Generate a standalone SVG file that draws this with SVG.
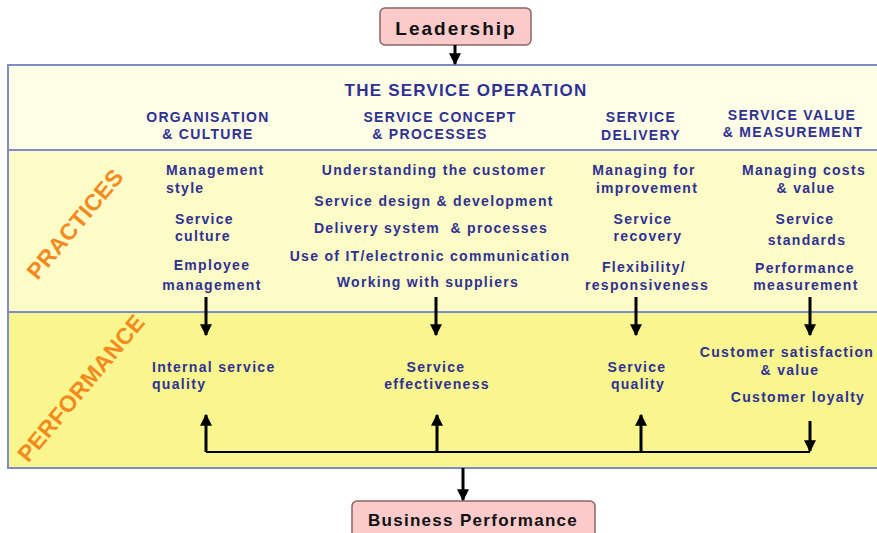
<svg xmlns="http://www.w3.org/2000/svg" width="877" height="533" viewBox="0 0 877 533">
<defs>
<marker id="ah" viewBox="0 0 10 10" refX="9" refY="5" markerWidth="4" markerHeight="4" orient="auto" markerUnits="strokeWidth">
<path d="M0,0 L10,5 L0,10 Z" fill="#000"/>
</marker>
<style>
.t{font-family:"Liberation Sans",Arial,sans-serif;font-weight:bold;font-size:14px;letter-spacing:1.3px;fill:#2e3192}
.c{text-anchor:middle}
.h{font-size:17px;letter-spacing:1.2px}
.o{font-family:"Liberation Sans",Arial,sans-serif;font-weight:bold;font-size:23px;fill:#f28a1e;text-anchor:middle;letter-spacing:0.3px}
.box{fill:#fbcaca;stroke:#8a6565;stroke-width:1.5}
.bt{font-family:"Liberation Sans",Arial,sans-serif;font-weight:bold;fill:#111;text-anchor:middle}
.ln{stroke:#000;stroke-width:3;fill:none}
.ar{stroke:#000;stroke-width:3;fill:none;marker-end:url(#ah)}
.fr{stroke:#7d8cc4;stroke-width:2}
</style>
</defs>
<rect width="877" height="533" fill="#fff"/>

<g id="frame">
<rect x="8" y="65" width="890" height="85" fill="#fefde6" class="fr"/>
<rect x="8" y="150" width="890" height="162" fill="#fdfbc6" class="fr"/>
<rect x="8" y="312" width="890" height="156" fill="#faf68f" class="fr"/>
</g>

<g id="leadership">
<rect x="380" y="8" width="151" height="37" rx="5" class="box"/>
<text x="456" y="35" class="bt" style="font-size:19px;letter-spacing:2px">Leadership</text>
</g>

<g id="business-performance">
<rect x="352" y="501" width="243" height="45" rx="5" class="box"/>
<text x="473" y="526" class="bt" style="font-size:17px;letter-spacing:1.3px">Business Performance</text>
</g>

<g id="header">
<text x="466" y="96" class="t c h">THE SERVICE OPERATION</text>
<text class="t c"><tspan x="208" y="122">ORGANISATION</tspan><tspan x="208" y="139">&amp; CULTURE</tspan></text>
<text class="t c"><tspan x="440" y="122">SERVICE CONCEPT</tspan><tspan x="430" y="139">&amp; PROCESSES</tspan></text>
<text class="t c"><tspan x="641" y="122">SERVICE</tspan><tspan x="641" y="140">DELIVERY</tspan></text>
<text class="t c"><tspan x="792" y="120">SERVICE VALUE</tspan><tspan x="793" y="137">&amp; MEASUREMENT</tspan></text>
</g>

<g id="practices-label">
<text class="o" transform="translate(75,224) rotate(-50)" x="0" y="8">PRACTICES</text>
</g>
<g id="performance-label">
<text class="o" transform="translate(81,388) rotate(-50)" x="0" y="8">PERFORMANCE</text>
</g>

<g id="practices-org">
<text class="t"><tspan x="166" y="175">Management</tspan><tspan x="166" y="193">style</tspan></text>
<text class="t"><tspan x="175" y="224">Service</tspan><tspan x="175" y="241">culture</tspan></text>
<text class="t c"><tspan x="212" y="270">Employee</tspan><tspan x="212" y="290">management</tspan></text>
</g>

<g id="practices-concept">
<text x="434" y="175" class="t c">Understanding the customer</text>
<text x="434" y="206" class="t c">Service design &amp; development</text>
<text x="431" y="233" class="t c" xml:space="preserve">Delivery system  &amp; processes</text>
<text x="430" y="261" class="t c">Use of IT/electronic communication</text>
<text x="428" y="287" class="t c">Working with suppliers</text>
</g>

<g id="practices-delivery">
<text class="t c"><tspan x="644" y="175">Managing for</tspan><tspan x="647" y="193">improvement</tspan></text>
<text class="t c"><tspan x="643" y="224">Service</tspan><tspan x="648" y="241">recovery</tspan></text>
<text class="t c"><tspan x="644" y="272">Flexibility/</tspan><tspan x="647" y="290">responsiveness</tspan></text>
</g>

<g id="practices-value">
<text class="t c"><tspan x="804" y="175">Managing costs</tspan><tspan x="806" y="193">&amp; value</tspan></text>
<text class="t c"><tspan x="805" y="224">Service</tspan><tspan x="807" y="245">standards</tspan></text>
<text class="t c"><tspan x="805" y="273">Performance</tspan><tspan x="806" y="290">measurement</tspan></text>
</g>

<g id="perf-internal">
<text class="t"><tspan x="152" y="372">Internal service</tspan><tspan x="152" y="389">quality</tspan></text>
</g>
<g id="perf-effectiveness">
<text class="t c"><tspan x="436" y="372">Service</tspan><tspan x="437" y="389">effectiveness</tspan></text>
</g>
<g id="perf-quality">
<text class="t c"><tspan x="637" y="372">Service</tspan><tspan x="638" y="389">quality</tspan></text>
</g>
<g id="perf-customer">
<text class="t c"><tspan x="787" y="357">Customer satisfaction</tspan><tspan x="790" y="375">&amp; value</tspan></text>
<text x="798" y="402" class="t c">Customer loyalty</text>
</g>

<g id="connectors">
<line x1="455" y1="45" x2="455" y2="64" class="ar"/>
<line x1="206" y1="297" x2="206" y2="335" class="ar"/>
<line x1="436" y1="297" x2="436" y2="335" class="ar"/>
<line x1="636" y1="297" x2="636" y2="335" class="ar"/>
<line x1="810" y1="297" x2="810" y2="335" class="ar"/>
<line x1="206" y1="452" x2="810" y2="452" class="ln" style="stroke-width:2"/>
<line x1="206" y1="452" x2="206" y2="415" class="ar"/>
<line x1="437" y1="452" x2="437" y2="415" class="ar"/>
<line x1="641" y1="452" x2="641" y2="415" class="ar"/>
<line x1="810" y1="421" x2="810" y2="451" class="ar"/>
<line x1="463" y1="468" x2="463" y2="500" class="ar"/>
</g>
</svg>
